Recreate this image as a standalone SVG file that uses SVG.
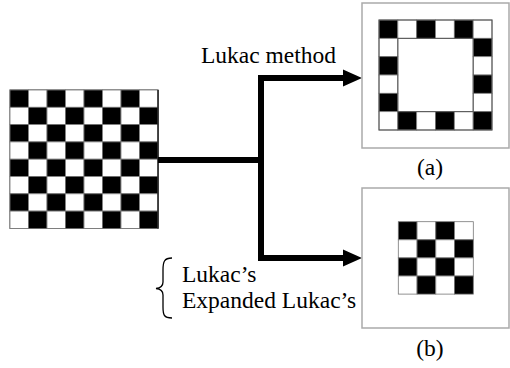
<svg xmlns="http://www.w3.org/2000/svg" width="510" height="368" viewBox="0 0 510 368">
<style>
.b{fill:#000;stroke:#777;stroke-width:0.8}
.w{fill:#fff;stroke:#777;stroke-width:0.8}
.box{fill:#fff;stroke:#aaa;stroke-width:1.5}
.conn{fill:none;stroke:#000;stroke-width:6}
.t{font-family:"Liberation Serif","Times New Roman",serif;font-size:23.5px;fill:#000}
</style>
<rect width="510" height="368" fill="#fff"/>
<g id="input">
<rect x="10" y="90" width="148" height="138.4" fill="#fff" stroke="#444" stroke-width="1"/>
<g>
<rect class="b" x="10" y="90" width="18.5" height="17.3"/><rect class="w" x="28.5" y="90" width="18.5" height="17.3"/><rect class="b" x="47" y="90" width="18.5" height="17.3"/><rect class="w" x="65.5" y="90" width="18.5" height="17.3"/><rect class="b" x="84" y="90" width="18.5" height="17.3"/><rect class="w" x="102.5" y="90" width="18.5" height="17.3"/><rect class="b" x="121" y="90" width="18.5" height="17.3"/><rect class="w" x="139.5" y="90" width="18.5" height="17.3"/>
<rect class="w" x="10" y="107.3" width="18.5" height="17.3"/><rect class="b" x="28.5" y="107.3" width="18.5" height="17.3"/><rect class="w" x="47" y="107.3" width="18.5" height="17.3"/><rect class="b" x="65.5" y="107.3" width="18.5" height="17.3"/><rect class="w" x="84" y="107.3" width="18.5" height="17.3"/><rect class="b" x="102.5" y="107.3" width="18.5" height="17.3"/><rect class="w" x="121" y="107.3" width="18.5" height="17.3"/><rect class="b" x="139.5" y="107.3" width="18.5" height="17.3"/>
<rect class="b" x="10" y="124.6" width="18.5" height="17.3"/><rect class="w" x="28.5" y="124.6" width="18.5" height="17.3"/><rect class="b" x="47" y="124.6" width="18.5" height="17.3"/><rect class="w" x="65.5" y="124.6" width="18.5" height="17.3"/><rect class="b" x="84" y="124.6" width="18.5" height="17.3"/><rect class="w" x="102.5" y="124.6" width="18.5" height="17.3"/><rect class="b" x="121" y="124.6" width="18.5" height="17.3"/><rect class="w" x="139.5" y="124.6" width="18.5" height="17.3"/>
<rect class="w" x="10" y="141.9" width="18.5" height="17.3"/><rect class="b" x="28.5" y="141.9" width="18.5" height="17.3"/><rect class="w" x="47" y="141.9" width="18.5" height="17.3"/><rect class="b" x="65.5" y="141.9" width="18.5" height="17.3"/><rect class="w" x="84" y="141.9" width="18.5" height="17.3"/><rect class="b" x="102.5" y="141.9" width="18.5" height="17.3"/><rect class="w" x="121" y="141.9" width="18.5" height="17.3"/><rect class="b" x="139.5" y="141.9" width="18.5" height="17.3"/>
<rect class="b" x="10" y="159.2" width="18.5" height="17.3"/><rect class="w" x="28.5" y="159.2" width="18.5" height="17.3"/><rect class="b" x="47" y="159.2" width="18.5" height="17.3"/><rect class="w" x="65.5" y="159.2" width="18.5" height="17.3"/><rect class="b" x="84" y="159.2" width="18.5" height="17.3"/><rect class="w" x="102.5" y="159.2" width="18.5" height="17.3"/><rect class="b" x="121" y="159.2" width="18.5" height="17.3"/><rect class="w" x="139.5" y="159.2" width="18.5" height="17.3"/>
<rect class="w" x="10" y="176.5" width="18.5" height="17.3"/><rect class="b" x="28.5" y="176.5" width="18.5" height="17.3"/><rect class="w" x="47" y="176.5" width="18.5" height="17.3"/><rect class="b" x="65.5" y="176.5" width="18.5" height="17.3"/><rect class="w" x="84" y="176.5" width="18.5" height="17.3"/><rect class="b" x="102.5" y="176.5" width="18.5" height="17.3"/><rect class="w" x="121" y="176.5" width="18.5" height="17.3"/><rect class="b" x="139.5" y="176.5" width="18.5" height="17.3"/>
<rect class="b" x="10" y="193.8" width="18.5" height="17.3"/><rect class="w" x="28.5" y="193.8" width="18.5" height="17.3"/><rect class="b" x="47" y="193.8" width="18.5" height="17.3"/><rect class="w" x="65.5" y="193.8" width="18.5" height="17.3"/><rect class="b" x="84" y="193.8" width="18.5" height="17.3"/><rect class="w" x="102.5" y="193.8" width="18.5" height="17.3"/><rect class="b" x="121" y="193.8" width="18.5" height="17.3"/><rect class="w" x="139.5" y="193.8" width="18.5" height="17.3"/>
<rect class="w" x="10" y="211.1" width="18.5" height="17.3"/><rect class="b" x="28.5" y="211.1" width="18.5" height="17.3"/><rect class="w" x="47" y="211.1" width="18.5" height="17.3"/><rect class="b" x="65.5" y="211.1" width="18.5" height="17.3"/><rect class="w" x="84" y="211.1" width="18.5" height="17.3"/><rect class="b" x="102.5" y="211.1" width="18.5" height="17.3"/><rect class="w" x="121" y="211.1" width="18.5" height="17.3"/><rect class="b" x="139.5" y="211.1" width="18.5" height="17.3"/>
</g>
<line x1="158" y1="90" x2="158" y2="228.4" stroke="#222" stroke-width="1.5"/>
</g>
<g id="connectors">
<polyline class="conn" points="158,160 261,160"/>
<polyline class="conn" points="344,78 261,78 261,258 344,258"/>
<polygon points="362,78 343,69.5 343,86.5" fill="#000"/>
<polygon points="362,258 343,249.5 343,266.5" fill="#000"/>
</g>
<g id="output-a">
<rect class="box" x="362" y="3" width="147" height="145"/>
<g>
<rect class="b" x="379" y="20" width="18.83" height="18.33"/><rect class="w" x="397.83" y="20" width="18.83" height="18.33"/><rect class="b" x="416.67" y="20" width="18.83" height="18.33"/><rect class="w" x="435.5" y="20" width="18.83" height="18.33"/><rect class="b" x="454.33" y="20" width="18.83" height="18.33"/><rect class="w" x="473.17" y="20" width="18.83" height="18.33"/>
<rect class="w" x="379" y="38.33" width="18.83" height="18.33"/><rect class="b" x="473.17" y="38.33" width="18.83" height="18.33"/>
<rect class="b" x="379" y="56.67" width="18.83" height="18.33"/><rect class="w" x="473.17" y="56.67" width="18.83" height="18.33"/>
<rect class="w" x="379" y="75" width="18.83" height="18.33"/><rect class="b" x="473.17" y="75" width="18.83" height="18.33"/>
<rect class="b" x="379" y="93.33" width="18.83" height="18.33"/><rect class="w" x="473.17" y="93.33" width="18.83" height="18.33"/>
<rect class="w" x="379" y="111.67" width="18.83" height="18.33"/><rect class="b" x="397.83" y="111.67" width="18.83" height="18.33"/><rect class="w" x="416.67" y="111.67" width="18.83" height="18.33"/><rect class="b" x="435.5" y="111.67" width="18.83" height="18.33"/><rect class="w" x="454.33" y="111.67" width="18.83" height="18.33"/><rect class="b" x="473.17" y="111.67" width="18.83" height="18.33"/>
</g>
<rect x="379" y="20" width="113" height="110" fill="none" stroke="#555" stroke-width="1"/>
<rect x="397.83" y="38.33" width="75.33" height="73.33" fill="none" stroke="#555" stroke-width="1"/>
<text class="t" x="430" y="175" text-anchor="middle">(a)</text>
</g>
<g id="output-b">
<rect class="box" x="362" y="188" width="147" height="140"/>
<g>
<rect class="b" x="398.3" y="221.7" width="18.75" height="18.1"/><rect class="w" x="417.05" y="221.7" width="18.75" height="18.1"/><rect class="b" x="435.8" y="221.7" width="18.75" height="18.1"/><rect class="w" x="454.55" y="221.7" width="18.75" height="18.1"/>
<rect class="w" x="398.3" y="239.8" width="18.75" height="18.1"/><rect class="b" x="417.05" y="239.8" width="18.75" height="18.1"/><rect class="w" x="435.8" y="239.8" width="18.75" height="18.1"/><rect class="b" x="454.55" y="239.8" width="18.75" height="18.1"/>
<rect class="b" x="398.3" y="257.9" width="18.75" height="18.1"/><rect class="w" x="417.05" y="257.9" width="18.75" height="18.1"/><rect class="b" x="435.8" y="257.9" width="18.75" height="18.1"/><rect class="w" x="454.55" y="257.9" width="18.75" height="18.1"/>
<rect class="w" x="398.3" y="276" width="18.75" height="18.1"/><rect class="b" x="417.05" y="276" width="18.75" height="18.1"/><rect class="w" x="435.8" y="276" width="18.75" height="18.1"/><rect class="b" x="454.55" y="276" width="18.75" height="18.1"/>
</g>
<text class="t" x="430" y="356" text-anchor="middle">(b)</text>
</g>
<g id="labels">
<text class="t" x="201" y="63">Lukac method</text>
<path d="M172,258 C164,258 163,262 163,270 L163,282 C163,286 161,288 156,288.5 C161,289 163,291 163,295 L163,307 C163,315 164,318 172,318" fill="none" stroke="#000" stroke-width="1.3"/>
<text class="t" x="182" y="281.5">Lukac’s</text>
<text class="t" x="182" y="308">Expanded Lukac’s</text>
</g>
</svg>
